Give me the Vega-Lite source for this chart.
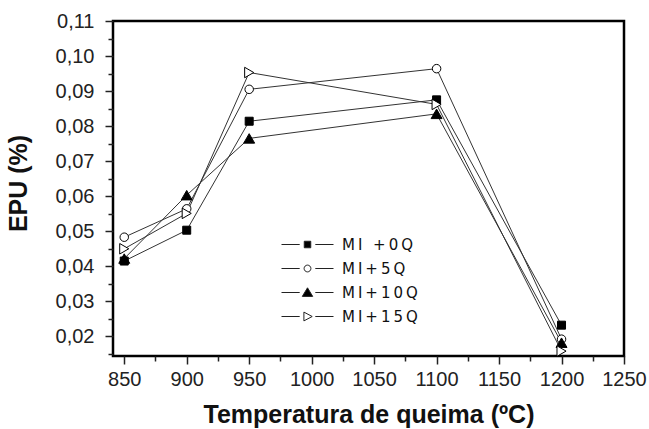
{
  "$schema": "https://vega.github.io/schema/vega-lite/v6.json",
  "width": 511,
  "height": 335,
  "autosize": "none",
  "padding": {"left": 113, "top": 21, "right": 25, "bottom": 73},
  "background": "white",
  "config": {
    "view": {"stroke": "black", "strokeWidth": 2.5},
    "axis": {
      "labelFont": "Liberation Sans",
      "labelFontSize": 20,
      "labelColor": "#222",
      "titleFont": "Liberation Sans",
      "titleFontWeight": "bold",
      "titleFontSize": 25,
      "titleColor": "#111",
      "domain": false,
      "grid": false,
      "tickColor": "#222",
      "tickWidth": 1.5,
      "labelOverlap": false,
      "labelFlush": false
    },
    "legend": {
      "title": null,
      "orient": "none",
      "legendX": 184,
      "legendY": 213,
      "padding": 0,
      "symbolSize": 400,
      "symbolStrokeWidth": 1,
      "symbolOpacity": 1,
      "rowPadding": 5,
      "labelFont": "DejaVu Sans",
      "labelFontSize": 15,
      "labelColor": "#111",
      "labelOffset": 24
    }
  },
  "data": {
    "values": [
      {"t": 850, "epu": 0.0415, "serie": "MI +0Q"},
      {"t": 900, "epu": 0.0503, "serie": "MI +0Q"},
      {"t": 950, "epu": 0.0814, "serie": "MI +0Q"},
      {"t": 1100, "epu": 0.0875, "serie": "MI +0Q"},
      {"t": 1200, "epu": 0.0232, "serie": "MI +0Q"},
      {"t": 850, "epu": 0.0483, "serie": "MI+5Q"},
      {"t": 900, "epu": 0.0564, "serie": "MI+5Q"},
      {"t": 950, "epu": 0.0905, "serie": "MI+5Q"},
      {"t": 1100, "epu": 0.0964, "serie": "MI+5Q"},
      {"t": 1200, "epu": 0.0192, "serie": "MI+5Q"},
      {"t": 850, "epu": 0.0422, "serie": "MI+10Q"},
      {"t": 900, "epu": 0.0603, "serie": "MI+10Q"},
      {"t": 950, "epu": 0.0765, "serie": "MI+10Q"},
      {"t": 1100, "epu": 0.0835, "serie": "MI+10Q"},
      {"t": 1200, "epu": 0.0182, "serie": "MI+10Q"},
      {"t": 850, "epu": 0.0450, "serie": "MI+15Q"},
      {"t": 900, "epu": 0.0551, "serie": "MI+15Q"},
      {"t": 950, "epu": 0.0953, "serie": "MI+15Q"},
      {"t": 1100, "epu": 0.0862, "serie": "MI+15Q"},
      {"t": 1200, "epu": 0.0158, "serie": "MI+15Q"}
    ]
  },
  "encoding": {
    "x": {
      "field": "t",
      "type": "quantitative",
      "scale": {"domain": [841, 1250], "nice": false, "zero": false},
      "axis": {
        "title": "Temperatura de queima (ºC)",
        "values": [850, 875, 900, 925, 950, 975, 1000, 1025, 1050, 1075, 1100, 1125, 1150, 1175, 1200, 1225, 1250],
        "tickSize": {"condition": {"test": "datum.value % 50 != 0", "value": 5}, "value": 8},
        "labelExpr": "datum.value % 50 == 0 ? format(datum.value, 'd') : ''",
        "labelPadding": 5,
        "titlePadding": 8,
        "titleY": 66,
        "titleBaseline": "alphabetic"
      }
    },
    "y": {
      "field": "epu",
      "type": "quantitative",
      "scale": {"domain": [0.0144, 0.11], "nice": false, "zero": false},
      "axis": {
        "title": "EPU (%)",
        "values": [0.015, 0.02, 0.025, 0.03, 0.035, 0.04, 0.045, 0.05, 0.055, 0.06, 0.065, 0.07, 0.075, 0.08, 0.085, 0.09, 0.095, 0.1, 0.105, 0.11],
        "tickSize": {"condition": {"test": "round(datum.value * 1000) % 10 != 0", "value": 5}, "value": 8},
        "labelExpr": "round(datum.value * 1000) % 10 == 0 ? replace(format(datum.value, '.2f'), '.', ',') : ''",
        "labelPadding": 11,
        "titleX": -95,
        "titleY": 162,
        "titleAngle": -90,
        "titleAlign": "center",
        "titleBaseline": "middle"
      }
    }
  },
  "layer": [
    {
      "mark": {"type": "line", "stroke": "#333", "strokeWidth": 1},
      "encoding": {"detail": {"field": "serie"}}
    },
    {
      "mark": {"type": "point", "filled": false, "stroke": "black", "strokeWidth": 1, "opacity": 1},
      "encoding": {
        "shape": {
          "condition": [
            {"test": "datum.serie == 'MI +0Q'", "value": "square"},
            {"test": "datum.serie == 'MI+5Q'", "value": "circle"},
            {"test": "datum.serie == 'MI+10Q'", "value": "triangle-up"}
          ],
          "value": "triangle-right"
        },
        "fill": {
          "condition": {"test": "datum.serie == 'MI+5Q' || datum.serie == 'MI+15Q'", "value": "white"},
          "value": "black"
        },
        "size": {
          "condition": [
            {"test": "datum.serie == 'MI +0Q'", "value": 64},
            {"test": "datum.serie == 'MI+5Q'", "value": 72},
            {"test": "datum.serie == 'MI+10Q'", "value": 120}
          ],
          "value": 110
        }
      }
    },
    {
      "transform": [{"filter": "datum.t < 0"}],
      "mark": {"type": "point", "filled": true, "strokeWidth": 1, "opacity": 1},
      "encoding": {
        "shape": {
          "field": "serie",
          "type": "nominal",
          "scale": {
            "domain": ["MI +0Q", "MI+5Q", "MI+10Q", "MI+15Q"],
            "range": [
              "M-2.6,0H-0.78M0.78,0H2.6M-0.325,-0.325H0.325V0.325H-0.325Z",
              "M-2.6,0H-0.78M0.78,0H2.6M0.34,0A0.34,0.34,0,1,1,-0.34,0A0.34,0.34,0,1,1,0.34,0Z",
              "M-2.6,0H-0.78M0.78,0H2.6M0,-0.47L0.52,0.39L-0.52,0.39Z",
              "M-2.6,0H-0.78M0.78,0H2.6M-0.36,-0.44L0.47,0L-0.36,0.44Z"
            ]
          },
          "legend": {"labelExpr": "join(split(datum.label, ''), '\u2009')"}
        },
        "fill": {
          "field": "serie",
          "type": "nominal",
          "scale": {
            "domain": ["MI +0Q", "MI+5Q", "MI+10Q", "MI+15Q"],
            "range": ["black", "white", "black", "white"]
          },
          "legend": {"labelExpr": "join(split(datum.label, ''), '\u2009')"}
        },
        "stroke": {
          "field": "serie",
          "type": "nominal",
          "scale": {
            "domain": ["MI +0Q", "MI+5Q", "MI+10Q", "MI+15Q"],
            "range": ["#222", "#222", "#222", "#222"]
          },
          "legend": {"labelExpr": "join(split(datum.label, ''), '\u2009')"}
        }
      }
    }
  ]
}
